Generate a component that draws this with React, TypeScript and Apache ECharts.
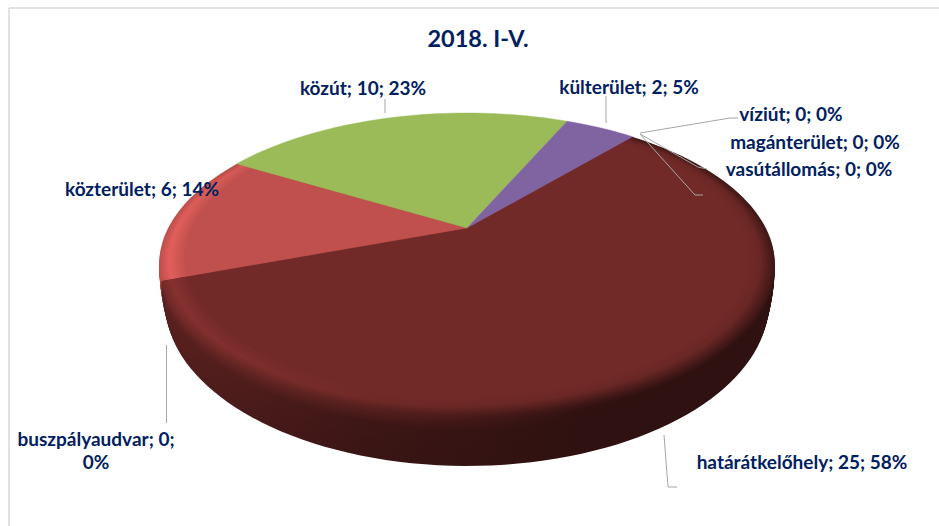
import React, { useEffect, useRef } from "react";
import * as echarts from "echarts";

const titleText = "2018. I-V.";
const categories = ["határátkelőhely", "buszpályaudvar", "közterület", "közút", "külterület", "magánterület", "víziút", "vasútállomás"];
const values = [25, 0, 6, 10, 2, 0, 0, 0];
const sliceColors = ["#722a28", "#c0504d", "#bf504d", "#9bbb59", "#8064a2", "#4bacc6", "#f79646", "#2c4d75"];

const total = values.reduce((a, b) => a + b, 0);
const labelText = (i: number) => `${categories[i]}; ${values[i]}; ${Math.round((values[i] / total) * 100)}%`;

// Disc projection
const START_DEG = 40.8, X0 = 467, Y0 = 228, A = 299, B = 142.4, K = 0.238;
const ELL_CX = 466, ELL_CY = 264, WALL_DY = 39, WALL_SX = -0.02, WALL_SY = 0.08;
const LAYERS = 32;

function lerpKeys(keys: number[][], q: number) {
  for (let i = 1; i < keys.length; i++) {
    if (q <= keys[i][0]) {
      const [q0, v0] = keys[i - 1];
      const [q1, v1] = keys[i];
      return v0 + ((v1 - v0) * (q - q0)) / (q1 - q0);
    }
  }
  return keys[keys.length - 1][1];
}
const leftKeys = [[0, 0.74], [0.45, 0.8], [0.74, 1.2], [1, 1]];
const midKeys = [[0, 0.5], [0.4, 0.52], [0.74, 0.98], [1, 1]];
const rightKeys = [[0, 0.4], [0.52, 0.41], [0.8, 0.92], [1, 1]];

function shade(hex: string, f: number) {
  const n = parseInt(hex.slice(1), 16);
  const c = (v: number) => Math.min(255, Math.round(v * f));
  return `rgb(${c((n >> 16) & 255)},${c((n >> 8) & 255)},${c(n & 255)})`;
}

function project(deg: number, r: number, s: number): number[] {
  const a = (deg * Math.PI) / 180;
  const u = Math.sin(a) * r, v = Math.cos(a) * r;
  const w = 1 + K * v;
  const px = X0 + (A * u) / w, py = Y0 - (B * v) / w;
  return [
    ELL_CX + (px - ELL_CX) * (1 + WALL_SX * (1 - s) * (1 - s)),
    ELL_CY + (py - ELL_CY) * (1 + WALL_SY * (1 - s)) + WALL_DY * (1 - s),
  ];
}

function renderSlice(params: any, api: any) {
  const i = params.dataIndex;
  const val = api.value(0);
  if (!val) return null;
  let before = 0;
  for (let j = 0; j < i; j++) before += values[j];
  const a0 = START_DEG + (before / total) * 360;
  const a1 = a0 + (val / total) * 360;
  const steps = Math.max(6, Math.ceil((a1 - a0) / 2));
  const base = sliceColors[i];
  const facingBack = Math.cos((((a0 + a1) / 2) * Math.PI) / 180) > 0.5;
  const children: any[] = [];
  for (let k = facingBack ? LAYERS : 0; k <= LAYERS; k++) {
    const q = k / LAYERS;
    const s = q < 0.6 ? q / 0.6 : 1;
    const r = q < 0.6 || facingBack ? 1 : 1 - (0.08 * (q - 0.6)) / 0.4;
    const pts: number[][] = [project(0, 0, s)];
    for (let t = 0; t <= steps; t++) pts.push(project(a0 + ((a1 - a0) * t) / steps, r, s));
    const fill =
      k === LAYERS
        ? base
        : new echarts.graphic.LinearGradient(
            155, 0, 780, 0,
            [
              { offset: 0, color: shade(base, lerpKeys(leftKeys, q)) },
              { offset: 0.35, color: shade(base, lerpKeys(midKeys, q)) },
              { offset: 0.7, color: shade(base, lerpKeys(rightKeys, q)) },
              { offset: 1, color: shade(base, lerpKeys(rightKeys, q)) },
            ],
            true
          );
    children.push({
      type: "polygon",
      z2: k,
      shape: { points: pts },
      style: { fill, stroke: k === LAYERS ? base : undefined, lineWidth: k === LAYERS ? 0.4 : 0 },
    });
  }
  return { type: "group", children };
}

const labelFont = { fontFamily: "Lato", fontWeight: 700, fontSize: 19, fill: "#002060" };

function label(text: string, x: number, y: number) {
  return { type: "text", z: 100, x, y, style: { ...labelFont, text, textAlign: "center", textVerticalAlign: "middle" } };
}
function leader(points: number[][]) {
  return { type: "polyline", z: 99, shape: { points }, style: { stroke: "#a6a6a6", lineWidth: 1, fill: "none" } };
}

export default function App() {
  const ref = useRef<HTMLDivElement>(null);
  useEffect(() => {
    const chart = echarts.init(ref.current!, undefined, { renderer: "svg" });
    chart.setOption({
      animation: false,
      backgroundColor: "#ffffff",
      title: {
        text: titleText,
        left: 473,
        top: 21,
        textAlign: "center",
        textStyle: { fontFamily: "Lato", fontWeight: 700, fontSize: 23.5, color: "#002060" },
      },
      series: [
        {
          type: "custom",
          coordinateSystem: "none",
          silent: true,
          renderItem: renderSlice,
          data: categories.map((name, i) => ({ name, value: [values[i]] })),
        },
      ],
      graphic: [
        { type: "line", shape: { x1: 9, y1: 8, x2: 939, y2: 8 }, style: { stroke: "#d9d9d9", lineWidth: 1.5 } },
        { type: "line", shape: { x1: 9, y1: 8, x2: 9, y2: 526 }, style: { stroke: "#d9d9d9", lineWidth: 1.5 } },
        leader([[385, 99], [385, 113]]),
        leader([[606, 96], [606, 123]]),
        leader([[640, 133], [730, 118], [738, 118]]),
        leader([[640, 134], [698, 167], [707, 169]]),
        leader([[640, 134], [695, 195], [703, 195]]),
        leader([[166.5, 345], [166.5, 423]]),
        leader([[664, 435], [668, 487], [677, 487]]),
        label(labelText(3), 363, 87),
        label(labelText(4), 629, 86),
        label(labelText(6), 791, 113),
        label(labelText(5), 815, 141),
        label(labelText(7), 809, 168),
        label(labelText(2), 142, 188),
        label(`${categories[1]}; ${values[1]};`, 96, 438),
        label(`${Math.round((values[1] / total) * 100)}%`, 96, 461),
        label(labelText(0), 802, 461),
      ],
    });
    return () => chart.dispose();
  }, []);
  return <div ref={ref} style={{ position: "absolute", left: 0, top: 0, width: 939, height: 526 }} />;
}
